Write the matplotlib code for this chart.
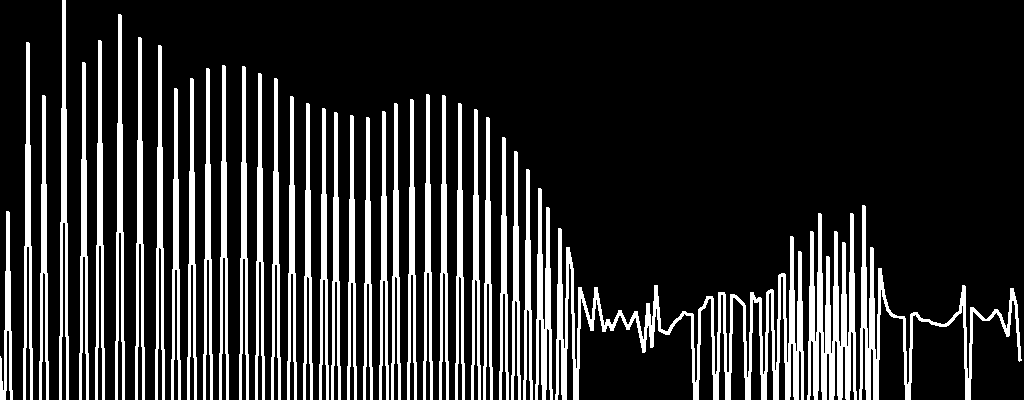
import numpy as np
import matplotlib
matplotlib.use("Agg")
import matplotlib.pyplot as plt

# ---- data (level units; floor value = clipped minimum) ----
n_samples = 256
floor_level = -50
start_level = 42

# harmonic peaks in the first part of the signal (sample index, level)
peak_index = [2, 7, 11, 16, 21, 25, 30, 35, 40, 44, 48, 52, 56, 61, 65, 69,
              73, 77, 81, 84, 88, 92, 96, 99, 103, 107, 111, 115, 119, 122,
              126, 129, 132, 135, 137, 140, 142, 143]
peak_level = [188, 357, 304, 405, 337, 359, 385, 362, 354, 311, 321, 331, 334,
              333, 326, 321, 303, 296, 291, 287, 284, 282, 288, 296, 300, 305,
              304, 296, 290, 282, 262, 248, 230, 211, 192, 171, 152, 132]

# continuous tail (samples 145 .. 255); -50 = floor
tail_start = 145
tail_level = [
    112, 98, 84, 70, 112, 90, 69, 80, 70, 80,
    89, 80, 71, 80, 88, 68, 48, 96, 53, 114,
    70, 68, 66, 74, 79, 82, 88, 85, 86, -50,
    90, 93, 103, 102, -50, 107, 106, -50, 105, 103,
    99, 95, -50, 107, 98, 102, -50, 107, 110, -50,
    124, 126, -50, 163, -50, 148, -50, -50, 168, -50,
    186, -50, 143, -50, 168, -50, 157, -50, 186, -50,
    -50, 194, -50, 152, -50, 131, 104, 90, 85, 83,
    83, 82, -50, 85, 87, 81, 79, 80, 77, 76,
    75, 74, 76, 80, 85, 88, 114, -50, 92, 88,
    84, 80, 80, 84, 90, 85, 74, 64, 111, 96, 40,
]

# ---- build series ----
level = np.full(n_samples, float(floor_level))
level[0] = start_level
level[peak_index] = peak_level
level[tail_start:tail_start + len(tail_level)] = tail_level
sample = np.arange(n_samples)

# ---- plot ----
fig = plt.figure(figsize=(10.24, 4.0), dpi=100, facecolor="black")
ax = fig.add_axes([0, 0, 1, 1])
ax.set_facecolor("black")
ax.plot(sample, level, color="white", linewidth=1.44, antialiased=False,
        solid_joinstyle="round")
ax.set_xlim(0, n_samples)
ax.set_ylim(0, 400)
ax.axis("off")
fig.savefig("out.png", dpi=100, facecolor="black")
